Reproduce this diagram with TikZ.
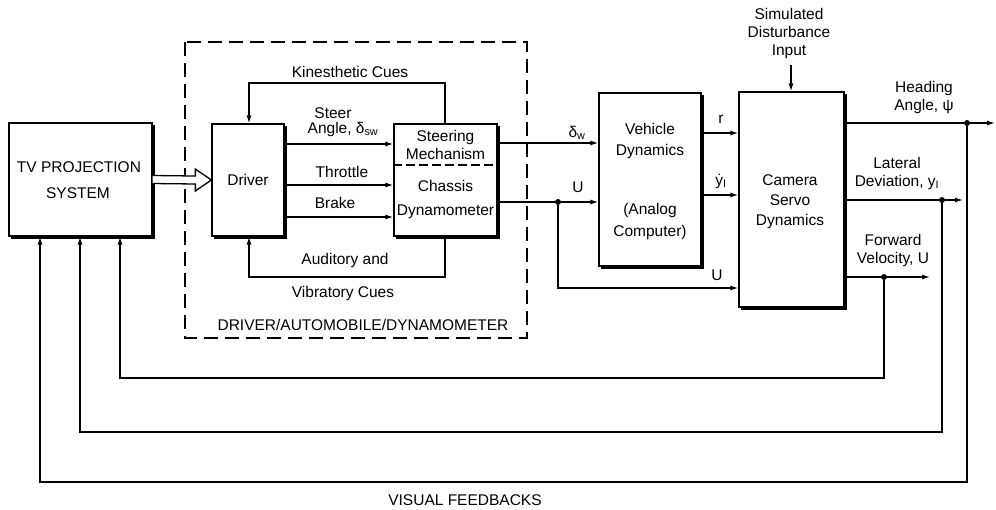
\documentclass[tikz,border=0pt]{standalone}
\usepackage{fontspec}
\setmainfont{Liberation Sans}
\usetikzlibrary{arrows.meta,calc}
\begin{document}
\begin{tikzpicture}[x=1pt,y=-1pt,
  lw/.style={line width=1.3pt},
  blk/.style={draw,lw,minimum width=#1,inner sep=0pt,align=center},
  arr/.style={lw,-{Latex[length=8pt,width=5pt]}},
  ln/.style={lw},
  lbl/.style={inner sep=0pt,align=center},
  dot/.style={circle,fill,inner sep=0pt,minimum size=6pt},
  font=\fontsize{15.5}{18}\selectfont]
\useasboundingbox (0,0) rectangle (996,509);
% blocks
\node[blk=143pt,minimum height=113pt] (tv) at (80.5,179.5) {};
\node[lbl] (tvt) at (79,167) {TV PROJECTION};
\node[lbl] (tvs) at (78,193) {SYSTEM};
\node[blk=72pt,minimum height=112pt] (drv) at (248,180) {Driver};
\node[blk=103pt,minimum height=112pt] (st) at (445.5,180) {};
\draw[lw,dash pattern=on 9pt off 4pt] (st.west |- 0,165) coordinate (dl) -- (st.east |- 0,165) coordinate (dr);
\node[lbl] (st1) at (445.5,137) {Steering};
\node[lbl] (st2) at (445.5,154) {Mechanism};
\node[lbl] (ch1) at (445.5,186) {Chassis};
\node[lbl] (ch2) at (445.5,212) {Dynamometer};
\node[blk=102pt,minimum height=173pt] (veh) at (650,179.5) {};
\node[lbl] (v1) at (650,129) {Vehicle};
\node[lbl] (v2) at (650,151) {Dynamics};
\node[lbl] (v3) at (650,210) {(Analog};
\node[lbl] (v4) at (650,232) {Computer)};
\node[blk=105pt,minimum height=215pt] (cam) at (791.5,199.5) {};
\node[lbl] (c1) at (790,180) {Camera};
\node[lbl] (c2) at (790,200) {Servo};
\node[lbl] (c3) at (790,221) {Dynamics};
% shadows
\foreach \n in {tv,drv,st,veh,cam}{
  \draw[line width=2.2pt] ($(\n.north east)+(1.5,3)$) -- ($(\n.south east)+(1.5,1.5)$) -- ($(\n.south west)+(3,1.5)$);
}
% dashed enclosure
\draw[lw,dash pattern=on 14pt off 7pt] (185,42) rectangle (527,338);
\node[lbl] (dad) at (363,325) {DRIVER/AUTOMOBILE/DYNAMOMETER};
% hollow double arrow
\draw[lw,fill=white] ($(tv.east)+(0,-4)$) -- ($(drv.west)+(-16,-4)$) -- ($(drv.west)+(-16,-11)$) -- (drv.west) -- ($(drv.west)+(-16,11)$) -- ($(drv.west)+(-16,4)$) -- ($(tv.east)+(0,4)$);
% driver outputs
\draw[arr] (drv.east |- 0,144) -- (st.west |- 0,144);
\draw[arr] (drv.east |- 0,185) -- (st.west |- 0,185);
\draw[arr] (drv.east |- 0,217) -- (st.west |- 0,217);
\node[lbl] (l1) at (333,113) {Steer};
\node[lbl] (l2) at (343,129) {Angle, δ\textsubscript{sw}};
\node[lbl] (l3) at (342,172) {Throttle};
\node[lbl] (l4) at (335,203) {Brake};
% cue loops
\coordinate (k1) at (445,83);
\coordinate (k2) at (249,83);
\draw[arr] (st.north -| k1) -- (k1) -- (k2) -- (drv.north -| k2);
\node[lbl] (kc) at (350,72) {Kinesthetic Cues};
\coordinate (a1) at (445,277);
\coordinate (a2) at (249,277);
\draw[arr] (st.south -| a1) -- (a1) -- (a2) -- (drv.south -| a2);
\node[lbl] (ac1) at (345,260) {Auditory and};
\node[lbl] (ac2) at (343,293) {Vibratory Cues};
% to vehicle dynamics
\draw[arr] (st.east |- 0,143) -- (veh.west |- 0,143);
\node[lbl] (dw) at (577,133) {δ\textsubscript{w}};
\node[dot] (ud) at (558,202) {};
\draw[ln] (st.east |- ud) -- (ud);
\draw[arr] (ud) -- (veh.west |- ud);
\node[lbl] (u1) at (578,187) {U};
\coordinate (ub) at (558,288);
\draw[arr] (ud) -- (ub) -- (cam.west |- ub);
\node[lbl] (u2) at (717,275) {U};
% vehicle to camera
\draw[arr] (veh.east |- 0,133) -- (cam.west |- 0,133);
\node[lbl] (r) at (721,119) {r};
\draw[arr] (veh.east |- 0,195) -- (cam.west |- 0,195);
\node[lbl] (yd) at (721,181) {\.{y}\textsubscript{I}};
% disturbance
\node[lbl] (dist) at (789,33) {Simulated\\Disturbance\\Input};
\draw[arr] (791,65) coordinate (dt) -- (cam.north -| dt);
% outputs
\node[dot] (hd) at (967,123) {};
\coordinate (he) at (995,123);
\draw[ln] (cam.east |- hd) -- (hd);
\draw[arr] (hd) -- (he);
\node[lbl] (hl) at (924,97) {Heading\\Angle, ψ};
\node[dot] (ldd) at (942,200) {};
\coordinate (le) at (963,200);
\draw[ln] (cam.east |- ldd) -- (ldd);
\draw[arr] (ldd) -- (le);
\node[lbl] (ll) at (897,173) {Lateral\\Deviation, y\textsubscript{I}};
\node[dot] (fd) at (884,277) {};
\coordinate (fe) at (930,277);
\draw[ln] (cam.east |- fd) -- (fd);
\draw[arr] (fd) -- (fe);
\node[lbl] (fl) at (893,250) {Forward\\Velocity, U};
% visual feedbacks
\coordinate (f1) at (884,378);
\coordinate (f2) at (120,378);
\draw[arr] (fd) -- (f1) -- (f2) -- (tv.south -| f2);
\coordinate (g1) at (942,432);
\coordinate (g2) at (80,432);
\draw[arr] (ldd) -- (g1) -- (g2) -- (tv.south -| g2);
\coordinate (h1) at (967,482);
\coordinate (h2) at (40,482);
\draw[arr] (hd) -- (h1) -- (h2) -- (tv.south -| h2);
\node[lbl] (vf) at (465,500) {VISUAL FEEDBACKS};
\end{tikzpicture}
\end{document}
